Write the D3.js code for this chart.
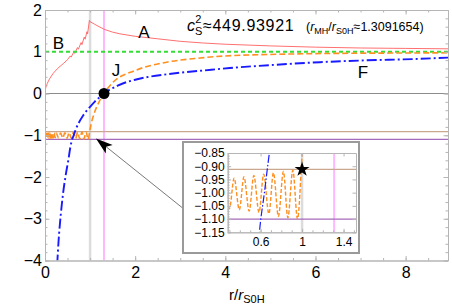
<!DOCTYPE html>
<html>
<head>
<meta charset="utf-8">
<script src="https://cdn.jsdelivr.net/npm/d3@7"></script>
<style>
  html, body { margin: 0; padding: 0; background: #fff; }
  svg { display: block; font-family: "Liberation Sans", Arial, sans-serif; }
</style>
</head>
<body>
<svg id="chart" width="452" height="306"></svg>
<script>
// tick labels
const X_TICKS = [0, 2, 4, 6, 8];
const Y_TICKS = [2, 1, 0, -1, -2, -3, -4];
const INSET_X_TICKS = [0.6, 1, 1.4];
const INSET_Y_TICKS = [-0.85, -0.9, -0.95, -1, -1.05, -1.1, -1.15];

// reference lines
const R_ONE = 1;
const R_MH = 1.3091654;
const H_LINES = { zero: 0, tan: -0.912, purple: -1.1, green: 1 };

// A: red curve
const redR = [0, 0.005, 0.02, 0.05, 0.1, 0.18, 0.28, 0.41, 0.5, 0.56, 0.58, 0.64, 0.66, 0.72, 0.74,
  0.8, 0.82, 0.87, 0.89, 0.93, 0.945, 0.985, 1.0, 1.1, 1.2, 1.33, 1.5, 1.66, 2.0, 2.5, 3.0, 3.5,
  4.0, 5.0, 6.0, 7.0, 8.0, 8.94];
const redV = [0, 0.08, 0.15, 0.24, 0.35, 0.48, 0.6, 0.72, 0.81, 0.9, 0.87, 1.0, 0.96, 1.1, 1.06,
  1.22, 1.17, 1.35, 1.3, 1.48, 1.43, 1.75, 1.72, 1.66, 1.6, 1.53, 1.47, 1.43, 1.37, 1.31, 1.25, 1.21,
  1.18, 1.14, 1.11, 1.09, 1.08, 1.07];

// J: orange curve
const orangeR = [0, 0.015, 0.03, 0.045, 0.06, 0.075, 0.09, 0.105, 0.12, 0.135, 0.15, 0.165, 0.18,
  0.2, 0.225, 0.25, 0.3, 0.345, 0.395, 0.44, 0.49, 0.535, 0.585, 0.63, 0.68, 0.724, 0.772, 0.82,
  0.863, 0.911, 0.956, 1.0, 1.02, 1.05, 1.1, 1.2, 1.309, 1.5, 2.0, 2.7, 3.44, 4.0, 5.0, 6.0, 7.0,
  8.0, 8.94];
const orangeV = [-1.0, -0.95, -1.07, -0.95, -1.07, -0.95, -1.07, -0.95, -1.07, -0.95, -1.07, -0.95,
  -1.07, -0.95, -1.06, -0.95, -1.06, -0.945, -1.065, -0.94, -1.07, -0.935, -1.075, -0.93, -1.08,
  -0.925, -1.09, -0.92, -1.095, -0.915, -1.1, -0.86, -0.75, -0.62, -0.45, -0.2, 0, 0.26, 0.55, 0.75,
  0.85, 0.9, 0.935, 0.955, 0.965, 0.97, 0.975];

// F: blue curve
const blueR = [0.27, 0.3, 0.35, 0.4, 0.46, 0.52, 0.56, 0.589, 0.637, 0.685, 0.75, 0.85, 1.0, 1.1,
  1.2, 1.309, 1.45, 1.6, 1.8, 2.0, 2.3, 2.7, 3.1, 3.5, 4.1, 5.0, 6.1, 7.0, 8.3, 8.94];
const blueV = [-4.1, -3.55, -2.9, -2.4, -1.95, -1.58, -1.3, -1.15, -1.0, -0.85, -0.7, -0.52, -0.32,
  -0.2, -0.1, 0, 0.1, 0.18, 0.27, 0.33, 0.4, 0.46, 0.51, 0.55, 0.61, 0.68, 0.75, 0.79, 0.83, 0.86];

const svg = d3.select('#chart');
const FRAME = '#b5b5b5';

const x = d3.scaleLinear().domain([0, 8.94]).range([45, 448]);
const y = d3.scaleLinear().domain([-4, 2]).range([260.5, 10]);

const zip = (rs, vs) => rs.map((r, i) => [r, vs[i]]);

svg.append('clipPath').attr('id', 'main-clip')
  .append('rect').attr('x', 45).attr('y', 10).attr('width', 403).attr('height', 250.5);

const plot = svg.append('g').attr('clip-path', 'url(#main-clip)');

// vertical markers
plot.append('line').attr('x1', x(R_ONE)).attr('x2', x(R_ONE)).attr('y1', y(2)).attr('y2', y(-4))
  .attr('stroke', '#dcdcdc').attr('stroke-width', 2.5);
plot.append('line').attr('x1', x(R_MH)).attr('x2', x(R_MH)).attr('y1', y(2)).attr('y2', y(-4))
  .attr('stroke', '#ffb8ff').attr('stroke-width', 2);

const hline = (v, color, w, dash) => plot.append('line')
  .attr('x1', x(0)).attr('x2', x(8.94)).attr('y1', y(v)).attr('y2', y(v))
  .attr('stroke', color).attr('stroke-width', w).attr('stroke-dasharray', dash || null);

hline(H_LINES.zero, '#8c8c8c', 1);
hline(H_LINES.tan, '#c9a88f', 1.3);
hline(H_LINES.purple, '#a56abb', 1.3);

const line = (xs, ys, curve) => d3.line().x(d => xs(d[0])).y(d => ys(d[1])).curve(curve);

plot.append('path').datum(zip(redR, redV))
  .attr('d', line(x, y, d3.curveLinear))
  .attr('fill', 'none').attr('stroke', '#ff6060').attr('stroke-width', 0.9);

hline(H_LINES.green, '#33dd33', 2, '4,3');

plot.append('path').datum(zip(orangeR, orangeV))
  .attr('d', line(x, y, d3.curveMonotoneX))
  .attr('fill', 'none').attr('stroke', '#ff8f1f').attr('stroke-width', 1.6)
  .attr('stroke-dasharray', '6,3');

plot.append('path').datum(zip(blueR, blueV))
  .attr('d', line(x, y, d3.curveMonotoneX))
  .attr('fill', 'none').attr('stroke', '#1a1aff').attr('stroke-width', 1.9)
  .attr('stroke-dasharray', '10,3,2,3');

svg.append('circle').attr('cx', x(R_MH)).attr('cy', y(0)).attr('r', 5.5).attr('fill', '#000');

// frame + ticks
function frame(g, axis) {
  g.call(axis)
    .call(a => a.select('.domain').attr('stroke', FRAME))
    .call(a => a.selectAll('.tick line').attr('stroke', FRAME))
    .call(a => a.selectAll('text').attr('fill', '#000').attr('font-family', '"Liberation Sans", Arial, sans-serif'));
}
const minorX = d3.range(0, 8.95, 0.5);
const minorY = d3.range(-4, 2.01, 0.2);

frame(svg.append('g').attr('transform', `translate(0,${y(-4)})`),
  d3.axisBottom(x).tickValues(minorX).tickFormat('').tickSizeInner(-2.5).tickSizeOuter(0));
frame(svg.append('g').attr('transform', `translate(0,${y(-4)})`),
  d3.axisBottom(x).tickValues(X_TICKS).tickFormat(d3.format('d')).tickSizeInner(-4.5).tickSizeOuter(0).tickPadding(6));
frame(svg.append('g').attr('transform', `translate(0,${y(2)})`),
  d3.axisTop(x).tickValues(minorX).tickFormat('').tickSizeInner(-2.5).tickSizeOuter(0));
frame(svg.append('g').attr('transform', `translate(0,${y(2)})`),
  d3.axisTop(x).tickValues(X_TICKS).tickFormat('').tickSizeInner(-4.5).tickSizeOuter(0));
frame(svg.append('g').attr('transform', `translate(${x(0)},0)`),
  d3.axisLeft(y).tickValues(minorY).tickFormat('').tickSizeInner(-2.5).tickSizeOuter(0));
frame(svg.append('g').attr('transform', `translate(${x(0)},0)`),
  d3.axisLeft(y).tickValues(Y_TICKS).tickFormat(d3.format('d')).tickSizeInner(-4.5).tickSizeOuter(0).tickPadding(3));
frame(svg.append('g').attr('transform', `translate(${x(8.94)},0)`),
  d3.axisRight(y).tickValues(minorY).tickFormat('').tickSizeInner(-2.5).tickSizeOuter(0));
frame(svg.append('g').attr('transform', `translate(${x(8.94)},0)`),
  d3.axisRight(y).tickValues(Y_TICKS).tickFormat('').tickSizeInner(-4.5).tickSizeOuter(0));
svg.selectAll('.tick text').attr('font-size', 16);

// curve labels
const label = (t, r, v) => svg.append('text').attr('x', x(r)).attr('y', y(v))
  .attr('font-size', 17).attr('fill', '#000').text(t);
label('B', 0.17, 1.07);
label('A', 2.07, 1.34);
label('J', 1.48, 0.41);
label('F', 6.94, 0.36);

// header
const head = svg.append('text').attr('x', 187).attr('y', 30.5).attr('font-size', 16).attr('fill', '#000');
head.append('tspan').attr('font-style', 'italic').text('c');
head.append('tspan').attr('font-size', 11).attr('dy', 4).text('S');
head.append('tspan').attr('font-size', 11).attr('dx', -7).attr('dy', -11.5).text('2');
head.append('tspan').attr('dy', 7.5).attr('dx', 1.5).attr('letter-spacing', 0.7).text('\u2248449.93921');

const sub = svg.append('text').attr('x', 306).attr('y', 30.5).attr('font-size', 12.5).attr('fill', '#000');
sub.append('tspan').text('(');
sub.append('tspan').attr('font-style', 'italic').text('r');
sub.append('tspan').attr('font-size', 9).attr('dy', 3).text('MH');
sub.append('tspan').attr('dy', -3).text('/');
sub.append('tspan').attr('font-style', 'italic').text('r');
sub.append('tspan').attr('font-size', 9).attr('dy', 3).text('S0H');
sub.append('tspan').attr('dy', -3).text('\u22481.3091654)');

const xl = svg.append('text').attr('x', 229).attr('y', 300).attr('font-size', 15).attr('fill', '#000');
xl.append('tspan').text('r/');
xl.append('tspan').attr('font-style', 'italic').text('r');
xl.append('tspan').attr('font-size', 11).attr('dy', 3).text('S0H');

// arrow from inset to the oscillation
const tail = [x(3.05), y(-2.74)];
const tip = [x(1.13), y(-1.08)];
const dx = tip[0] - tail[0], dy = tip[1] - tail[1];
const len = Math.hypot(dx, dy);
const ux = dx / len, uy = dy / len;
const base = [tip[0] - 17 * ux, tip[1] - 17 * uy];
const notch = [tip[0] - 13 * ux, tip[1] - 13 * uy];
svg.append('line').attr('x1', tail[0]).attr('y1', tail[1]).attr('x2', notch[0]).attr('y2', notch[1])
  .attr('stroke', '#555').attr('stroke-width', 0.8);
svg.append('path')
  .attr('d', d3.line()([tip, [base[0] - 5.5 * uy, base[1] + 5.5 * ux], notch, [base[0] + 5.5 * uy, base[1] - 5.5 * ux]]) + 'Z')
  .attr('fill', '#000');

// inset
const inset = svg.append('g');
inset.append('rect').attr('x', 183).attr('y', 142).attr('width', 176).attr('height', 111)
  .attr('fill', '#fff').attr('stroke', '#9a9a9a').attr('stroke-width', 2);

const ix = d3.scaleLinear().domain([0.283, 1.52]).range([227.7, 356]);
const iy = d3.scaleLinear().domain([-1.15, -0.85]).range([232.3, 153]);

svg.append('clipPath').attr('id', 'inset-clip')
  .append('rect').attr('x', 227.7).attr('y', 153).attr('width', 128.3).attr('height', 79.3);
const ip = inset.append('g').attr('clip-path', 'url(#inset-clip)');

ip.append('line').attr('x1', ix(R_ONE)).attr('x2', ix(R_ONE)).attr('y1', 153).attr('y2', 232.3)
  .attr('stroke', '#dcdcdc').attr('stroke-width', 2.5);
ip.append('line').attr('x1', ix(R_MH)).attr('x2', ix(R_MH)).attr('y1', 153).attr('y2', 232.3)
  .attr('stroke', '#ffb8ff').attr('stroke-width', 2);
ip.append('line').attr('x1', 227.7).attr('x2', 356).attr('y1', iy(H_LINES.tan)).attr('y2', iy(H_LINES.tan))
  .attr('stroke', '#c9a88f').attr('stroke-width', 1.2);
ip.append('line').attr('x1', 227.7).attr('x2', 356).attr('y1', iy(H_LINES.purple)).attr('y2', iy(H_LINES.purple))
  .attr('stroke', '#a56abb').attr('stroke-width', 1.2);

ip.append('path').datum(zip(orangeR, orangeV))
  .attr('d', line(ix, iy, d3.curveMonotoneX))
  .attr('fill', 'none').attr('stroke', '#ff8f1f').attr('stroke-width', 1.4)
  .attr('stroke-dasharray', '4,2');
ip.append('path').datum(zip(blueR, blueV))
  .attr('d', line(ix, iy, d3.curveMonotoneX))
  .attr('fill', 'none').attr('stroke', '#1a1aff').attr('stroke-width', 1.2)
  .attr('stroke-dasharray', '8,2,1.5,2');

inset.append('path').attr('d', d3.symbol(d3.symbolStar, 70)())
  .attr('transform', `translate(${ix(R_ONE)},${iy(H_LINES.tan)})`).attr('fill', '#000');

const iMinorX = d3.range(0.3, 1.51, 0.1);
const iMinorY = d3.range(-1.15, -0.849, 0.01);
frame(inset.append('g').attr('transform', 'translate(0,232.3)'),
  d3.axisBottom(ix).tickValues(iMinorX).tickFormat('').tickSizeInner(-2).tickSizeOuter(0));
frame(inset.append('g').attr('transform', 'translate(0,232.3)'),
  d3.axisBottom(ix).tickValues(INSET_X_TICKS).tickFormat(d3.format('~g')).tickSizeInner(-3.5).tickSizeOuter(0).tickPadding(5));
frame(inset.append('g').attr('transform', 'translate(0,153)'),
  d3.axisTop(ix).tickValues(INSET_X_TICKS).tickFormat('').tickSizeInner(-3.5).tickSizeOuter(0));
frame(inset.append('g').attr('transform', 'translate(227.7,0)'),
  d3.axisLeft(iy).tickValues(iMinorY).tickFormat('').tickSizeInner(-2).tickSizeOuter(0));
frame(inset.append('g').attr('transform', 'translate(227.7,0)'),
  d3.axisLeft(iy).tickValues(INSET_Y_TICKS).tickFormat(d3.format('.2f')).tickSizeInner(-3.5).tickSizeOuter(0).tickPadding(3));
frame(inset.append('g').attr('transform', 'translate(356,0)'),
  d3.axisRight(iy).tickValues(INSET_Y_TICKS).tickFormat('').tickSizeInner(-3.5).tickSizeOuter(0));
inset.selectAll('.tick text').attr('font-size', 12);
</script>
</body>
</html>
